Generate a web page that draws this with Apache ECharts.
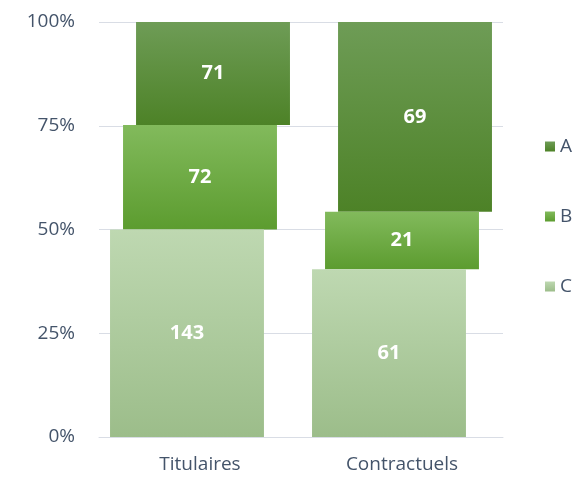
<!DOCTYPE html>
<html>
<head>
<meta charset="utf-8">
<script src="https://cdn.jsdelivr.net/npm/echarts@6/dist/echarts.min.js"></script>
<style>
  html, body { margin: 0; padding: 0; background: #fff; }
  #main { width: 578px; height: 477px; }
</style>
</head>
<body>
<div id="main"></div>
<script>
var categories = ['Titulaires', 'Contractuels'];
var seriesNames = ['A', 'B', 'C'];
var valuesA = [71, 69];
var valuesB = [72, 21];
var valuesC = [143, 61];
var yTicks = [0, 25, 50, 75, 100];

var chart = echarts.init(document.getElementById('main'));

var totals = categories.map(function (c, i) {
    return valuesA[i] + valuesB[i] + valuesC[i];
});

// build [cat, start%, end%, count] rows, bottom to top: C, B, A
function rows(values, below) {
    return categories.map(function (c, i) {
        var start = below[i] / totals[i] * 100;
        var end = (below[i] + values[i]) / totals[i] * 100;
        return [i, start, end, values[i]];
    });
}
var zero = [0, 0];
var belowB = valuesC.slice();
var belowA = valuesC.map(function (v, i) { return v + valuesB[i]; });

function grad(top, bottom) {
    return new echarts.graphic.LinearGradient(0, 0, 0, 1, [
        { offset: 0, color: top },
        { offset: 1, color: bottom }
    ]);
}

function makeSeries(name, data, shift, top, bottom) {
    return {
        name: name,
        type: 'custom',
        itemStyle: { color: grad(top, bottom) },
        encode: { x: 0, y: [1, 2] },
        data: data,
        renderItem: function (params, api) {
            var band = api.size([1, 0])[0];
            var w = band * 0.762;
            var cx = api.coord([api.value(0), 0])[0] + band * shift;
            var p1 = api.coord([api.value(0), api.value(2)]);
            var p0 = api.coord([api.value(0), api.value(1)]);
            return {
                type: 'rect',
                shape: { x: cx - w / 2, y: p1[1], width: w, height: p0[1] - p1[1] },
                style: { fill: grad(top, bottom) },
                textContent: {
                    style: {
                        text: String(api.value(3)),
                        fill: '#fff',
                        fontSize: 20,
                        fontWeight: 'bold',
                        fontFamily: 'Open Sans'
                    }
                },
                textConfig: { position: 'inside' }
            };
        }
    };
}

option = {
    backgroundColor: '#fff',
    animation: false,
    grid: { left: 99, right: 75, top: 22, bottom: 40 },
    legend: {
        orient: 'vertical',
        left: 540,
        top: 132,
        itemGap: 51,
        itemWidth: 10,
        itemHeight: 10,
        icon: 'rect',
        textStyle: { color: '#44546a', fontSize: 19, fontFamily: 'Open Sans' },
        data: seriesNames
    },
    xAxis: {
        type: 'category',
        data: categories,
        axisLine: { lineStyle: { color: '#d9dde5' } },
        axisTick: { show: false },
        axisLabel: { color: '#44546a', fontSize: 19, fontFamily: 'Open Sans', margin: 18 }
    },
    yAxis: {
        type: 'value',
        min: yTicks[0],
        max: yTicks[yTicks.length - 1],
        interval: 25,
        axisLine: { show: false },
        axisTick: { show: false },
        splitLine: { lineStyle: { color: '#d9dde5' } },
        axisLabel: {
            color: '#44546a', fontSize: 19, fontFamily: 'Open Sans', margin: 24,
            formatter: '{value}%'
        }
    },
    series: [
        makeSeries('A', rows(valuesA, belowA), 0.0644, '#6e9c56', '#4d8227'),
        makeSeries('B', rows(valuesB, belowB), 0, '#82ba5c', '#5c9c2f'),
        makeSeries('C', rows(valuesC, zero), -0.0644, '#bed8b1', '#9cbd8a')
    ]
};
chart.setOption(option);
</script>
</body>
</html>
